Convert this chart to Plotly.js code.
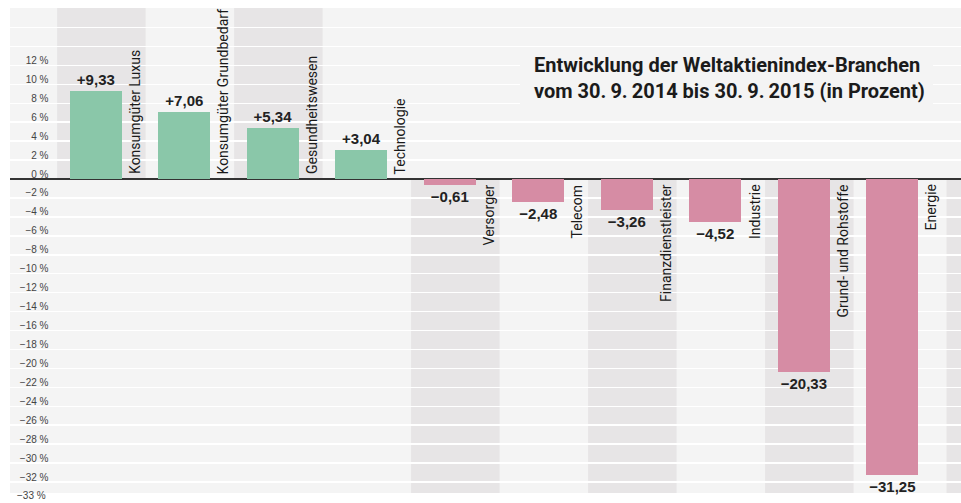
<!DOCTYPE html>
<html>
<head>
<meta charset="utf-8">
<script src="https://cdn.plot.ly/plotly-3.0.1.min.js"></script>
<style>
html,body{margin:0;padding:0;background:#fff;}
#chart{width:961px;height:503px;}
</style>
</head>
<body>
<div id="chart"></div>
<script>
// ---- data ----
const categories = ['Konsumgüter Luxus', 'Konsumgüter Grundbedarf', 'Gesundheitswesen', 'Technologie',
  'Versorger', 'Telecom', 'Finanzdienstleister', 'Industrie', 'Grund- und Rohstoffe', 'Energie'];
const values = [9.33, 7.06, 5.34, 3.04, -0.61, -2.48, -3.26, -4.52, -20.33, -31.25];
const gridValues = [16, 14, 12, 10, 8, 6, 4, 2, 0, -2, -4, -6, -8, -10, -12, -14, -16, -18, -20,
  -22, -24, -26, -28, -30, -32];
const labelValues = [12, 10, 8, 6, 4, 2, 0, -2, -4, -6, -8, -10, -12, -14, -16, -18, -20,
  -22, -24, -26, -28, -30, -32, -33];
const titleLines = ['Entwicklung der Weltaktienindex-Branchen', 'vom 30.\u20099.\u20092014 bis 30.\u20099.\u20092015 (in Prozent)'];

// ---- style ----
const Y_MIN = -33.16, Y_MAX = 18.06;
const X_MIN = -1.032, X_MAX = 9.714;
const GREEN = '#8ac7a9', PINK = '#d68ca4';
const BG = '#f4f4f4', BAND = '#e7e5e6';
const NARROW = 'Roboto, "Liberation Sans", sans-serif';
const SANS = '"Liberation Sans", Arial, Helvetica, sans-serif';

const fmtPct = v => (v === 0 ? '' : (v > 0 ? '' : '−')) + Math.abs(v) + ' %';
const fmtVal = v => (v > 0 ? '+' : '−') + Math.abs(v).toFixed(2).replace('.', ',');

const idx = categories.map((c, i) => i);

const trace = {
  type: 'bar',
  x: categories,
  y: values,
  width: 0.588,
  offset: -0.356,
  marker: {color: values.map(v => v >= 0 ? GREEN : PINK), line: {width: 0}},
  text: values.map(fmtVal),
  textposition: 'outside',
  textangle: 0,
  constraintext: 'none',
  cliponaxis: false,
  textfont: {family: SANS, size: 15, weight: 700, color: '#222'},
  hoverinfo: 'x+y'
};

// background column bands
const shapes = [];
idx.forEach(i => {
  if (values[i] >= 0 && i % 2 === 0) {
    shapes.push({type: 'rect', layer: 'below', xref: 'x', yref: 'y', x0: i - 0.5, x1: i + 0.5,
      y0: 0, y1: Y_MAX, fillcolor: BAND, line: {width: 0}});
  }
  if (values[i] < 0 && i % 2 === 0) {
    shapes.push({type: 'rect', layer: 'below', xref: 'x', yref: 'y', x0: i - 0.5, x1: i + 0.5,
      y0: Y_MIN, y1: 0, fillcolor: BAND, line: {width: 0}});
  }
});
shapes.push({type: 'rect', layer: 'below', xref: 'x', yref: 'y', x0: categories.length - 0.45, x1: categories.length + 0.5,
  y0: Y_MIN, y1: 0, fillcolor: BAND, line: {width: 0}});
// plain box behind the title (hides grid lines there)
shapes.push({type: 'rect', layer: 'above', xref: 'paper', yref: 'paper', x0: 0.5363, x1: 0.9706,
  y0: 0.7856, y1: 0.9093, fillcolor: BG, line: {width: 0}});

const annotations = [];
idx.forEach(i => {
  const pos = values[i] >= 0;
  annotations.push({
    x: i + 0.38, y: 0, xref: 'x', yref: 'y',
    text: categories[i], showarrow: false, textangle: -90,
    xanchor: 'center', yanchor: pos ? 'bottom' : 'top',
    yshift: pos ? 3 : -3,
    font: {family: NARROW, size: 14, color: '#1a1a1a'}
  });
});
const lastLabel = labelValues[labelValues.length - 1];
annotations.push({
  x: 0.0395, xref: 'paper', y: lastLabel, yref: 'y', yshift: -4,
  text: fmtPct(lastLabel), showarrow: false, xanchor: 'right', yanchor: 'middle',
  font: {family: SANS, size: 10, color: '#444'}
});
annotations.push({
  x: 0.549, y: 0.912, xref: 'paper', yref: 'paper', xanchor: 'left', yanchor: 'top',
  align: 'left', showarrow: false,
  text: titleLines.join('<br>'),
  font: {family: NARROW, size: 20, weight: 700, color: '#1b1b1b'}
});

const tickText = gridValues.map(v => labelValues.indexOf(v) >= 0 ? (v === 0 ? '0 %' : fmtPct(v)) : '');

const layout = {
  width: 961, height: 503,
  margin: {l: 10, r: 0, t: 8, b: 10, pad: 0},
  paper_bgcolor: '#ffffff',
  plot_bgcolor: BG,
  showlegend: false,
  bargap: 0,
  xaxis: {
    type: 'category', range: [X_MIN, X_MAX], showticklabels: false, showgrid: false,
    zeroline: false, showline: false, ticks: '', fixedrange: true
  },
  yaxis: {
    range: [Y_MIN, Y_MAX], anchor: 'free', position: 0.0405, side: 'left',
    tickmode: 'array', tickvals: gridValues, ticktext: tickText,
    ticks: '', ticklabelshift: -5,
    showgrid: true, gridcolor: '#ffffff', gridwidth: 1.5,
    zeroline: true, zerolinecolor: '#333333', zerolinewidth: 2,
    showline: false,
    tickfont: {family: SANS, size: 10, color: '#444'},
    fixedrange: true
  },
  shapes: shapes,
  annotations: annotations
};

Plotly.newPlot('chart', [trace], layout, {displayModeBar: false, staticPlot: true});
</script>
</body>
</html>
